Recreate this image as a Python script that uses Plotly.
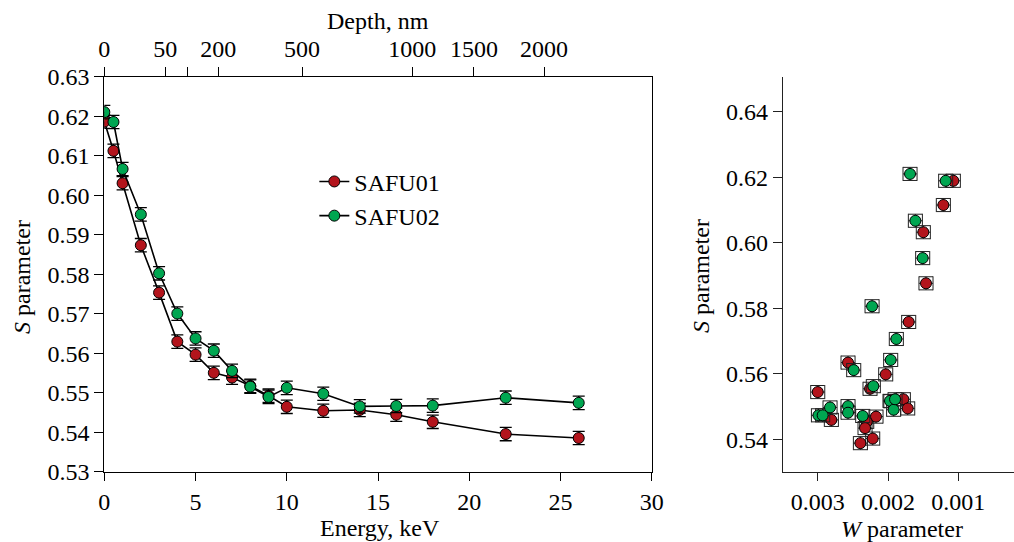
import plotly.graph_objects as go

# ---------------- data ----------------
energy = [0, 0.5, 1, 2, 3, 4, 5, 6, 7, 8, 9, 10, 12, 14, 16, 18, 22, 26]
s_safu01 = [0.6187, 0.6113, 0.6031, 0.5874, 0.5754, 0.5630, 0.5597, 0.5551, 0.5539,
            0.5518, 0.5493, 0.5465, 0.5455, 0.5457, 0.5445, 0.5427, 0.5396, 0.5386]
s_safu02 = [0.6211, 0.6186, 0.6067, 0.5952, 0.5803, 0.5701, 0.5638, 0.5607, 0.5556,
            0.5516, 0.5490, 0.5513, 0.5498, 0.5466, 0.5467, 0.5468, 0.5488, 0.5475]
s_err01 = [0.0017] * 18
s_err02 = [0.0017] * 18

depth_labels = ["0", "50", "", "200", "500", "1000", "1500", "2000"]
depth_tick_energy = [0, 3.34, 4.55, 6.24, 10.84, 16.87, 20.26, 24.1]

w_safu01 = [0.001071, 0.001213, 0.001498, 0.00146, 0.001706, 0.002569, 0.002033, 0.002256,
            0.003, 0.001782, 0.00172, 0.002171, 0.002303, 0.002327, 0.002218, 0.002393,
            0.002806, 0.00196]
sw_safu01 = [0.6189, 0.6115, 0.6032, 0.5876, 0.5758, 0.5634, 0.5598, 0.5554, 0.5544,
             0.5522, 0.5494, 0.5469, 0.5453, 0.5434, 0.5402, 0.5388, 0.5459, 0.5516]
w_safu02 = [0.001687, 0.00118, 0.001611, 0.001507, 0.002227, 0.001882, 0.001962, 0.002488,
            0.002209, 0.001972, 0.00192, 0.0019, 0.002569, 0.002569, 0.00236, 0.002825,
            0.00299, 0.00293]
sw_safu02 = [0.6210, 0.6189, 0.6067, 0.5953, 0.5806, 0.5706, 0.5642, 0.5611, 0.5562,
             0.5517, 0.5490, 0.5522, 0.5501, 0.5481, 0.5471, 0.5497, 0.5473, 0.5473]
w_err = 0.0001
sw_err = 0.002

RED = "#b3141c"
GREEN = "#00a651"
FONT = "Liberation Serif"
FS = 24

fig = go.Figure()

def left_trace(y, err, color, name):
    return go.Scatter(
        x=energy, y=y, name=name, mode="lines+markers",
        line=dict(color="black", width=1.6),
        marker=dict(color=color, size=11, line=dict(color="black", width=1)),
        error_y=dict(type="data", array=err, visible=True, color="black",
                     thickness=1.3, width=6),
        xaxis="x", yaxis="y",
    )

fig.add_trace(left_trace(s_safu01, s_err01, RED, "SAFU01"))
fig.add_trace(left_trace(s_safu02, s_err02, GREEN, "SAFU02"))

def right_trace(w, s, color, name):
    return go.Scatter(
        x=w, y=s, name=name, mode="markers", showlegend=False,
        marker=dict(color=color, size=11, line=dict(color="black", width=1)),
        error_x=dict(type="constant", value=w_err, visible=True, color="#222",
                     thickness=1, width=7),
        error_y=dict(type="constant", value=sw_err, visible=True, color="#222",
                     thickness=1, width=7),
        xaxis="x3", yaxis="y3",
    )

fig.add_trace(right_trace(w_safu01, sw_safu01, RED, "SAFU01"))
fig.add_trace(right_trace(w_safu02, sw_safu02, GREEN, "SAFU02"))

# invisible trace to activate top axis
fig.add_trace(go.Scatter(x=[0], y=[None], xaxis="x2", yaxis="y", showlegend=False,
                         hoverinfo="skip", mode="markers"))

tickfont = dict(family=FONT, size=FS, color="black")
ydom = [0.1292, 0.858]

fig.update_layout(
    width=1014, height=542,
    margin=dict(l=0, r=0, t=0, b=0),
    paper_bgcolor="white", plot_bgcolor="white",
    font=dict(family=FONT, size=FS, color="black"),
    showlegend=True,
    legend=dict(x=0.31, y=0.706, xanchor="left", yanchor="top",
                bgcolor="rgba(0,0,0,0)", font=dict(family=FONT, size=24),
                tracegroupgap=2, itemwidth=30),
    xaxis=dict(domain=[0.1029, 0.6427], range=[0, 30], tickvals=[0, 5, 10, 15, 20, 25, 30],
               showline=True, linecolor="black", linewidth=1.3, mirror=True,
               ticks="outside", ticklen=8, tickwidth=1.3, tickcolor="black",
               showgrid=False, zeroline=False, tickfont=tickfont, automargin=False),
    xaxis2=dict(overlaying="x", side="top", anchor="y", range=[0, 30],
                tickvals=depth_tick_energy, ticktext=depth_labels,
                showline=False, ticks="outside", ticklen=9, tickwidth=1.3,
                tickcolor="black", showgrid=False, zeroline=False,
                tickfont=tickfont, automargin=False),
    yaxis=dict(domain=ydom, range=[0.53, 0.63], tickvals=[0.53 + 0.01 * i for i in range(11)],
               tickformat=".2f", showline=True, linecolor="black", linewidth=1.3,
               mirror=True, ticks="outside", ticklen=9, tickwidth=1.3, tickcolor="black",
               showgrid=False, zeroline=False, tickfont=tickfont, automargin=False),
    xaxis3=dict(domain=[0.7722, 1.0], anchor="y3", range=[0.003494, 0.000208],
                tickvals=[0.003, 0.002, 0.001], ticktext=["0.003", "0.002", "0.001"],
                showline=True, linecolor="#222", linewidth=1.3,
                ticks="outside", ticklen=8, tickwidth=1.3, tickcolor="#222",
                showgrid=False, zeroline=False, tickfont=tickfont, automargin=False),
    yaxis3=dict(domain=ydom, anchor="x3", range=[0.530, 0.6506],
                tickvals=[0.54, 0.56, 0.58, 0.60, 0.62, 0.64], tickformat=".2f",
                showline=True, linecolor="#222", linewidth=1.3,
                ticks="outside", ticklen=9, tickwidth=1.3, tickcolor="#222",
                showgrid=False, zeroline=False, tickfont=tickfont, automargin=False),
)

def ann(text, x, y, angle=0):
    fig.add_annotation(text=text, x=x, y=y, xref="paper", yref="paper",
                       showarrow=False, textangle=angle,
                       font=dict(family=FONT, size=FS, color="black"),
                       xanchor="center", yanchor="middle")

ann("Depth, nm", 378 / 1014, 1 - 21 / 542)
ann("Energy, keV", 380 / 1014, 1 - 528 / 542)
ann("<i>S</i> parameter", 22 / 1014, 1 - 277 / 542, -90)
ann("<i>S</i> parameter", 701 / 1014, 1 - 276 / 542, -90)
ann("<i>W</i> parameter", 902 / 1014, 1 - 529 / 542)

fig.write_html("out.html", config={"displayModeBar": False},
               post_script="document.body.style.margin='0';document.body.style.overflow='hidden';")
